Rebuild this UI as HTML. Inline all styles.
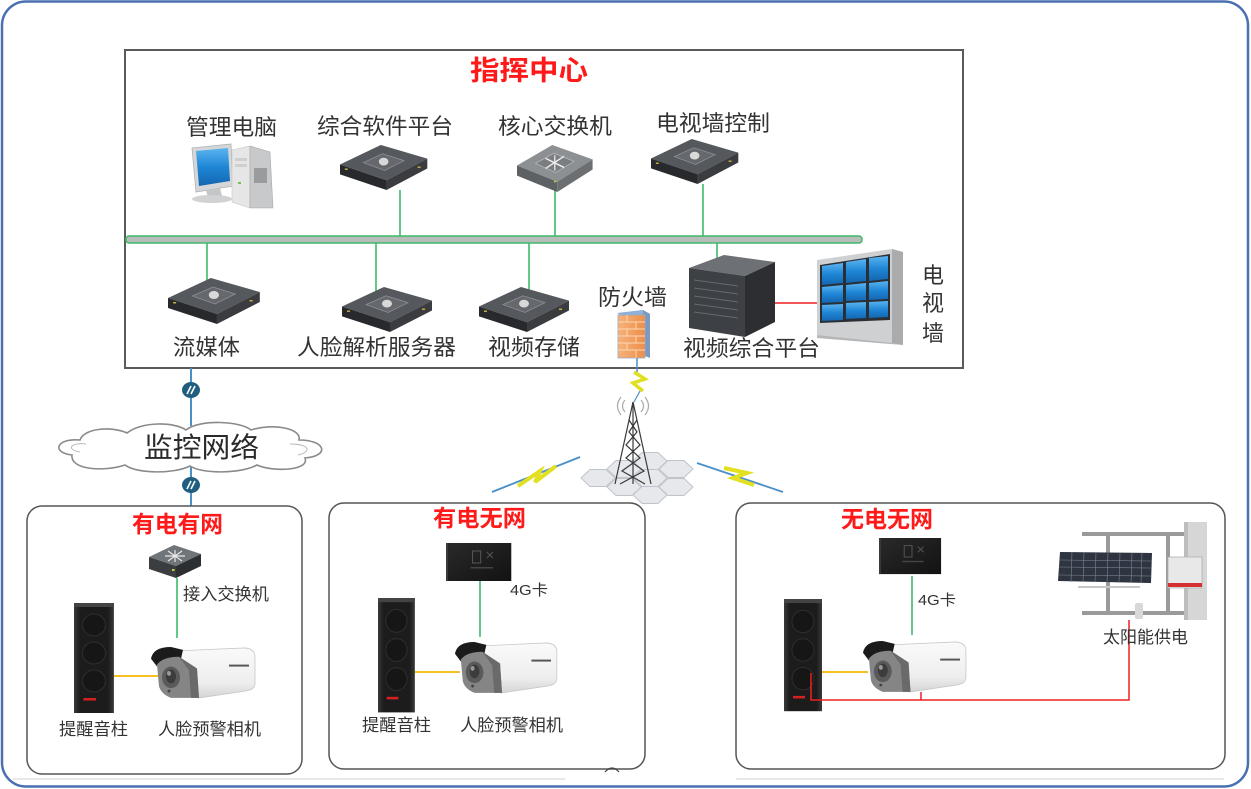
<!DOCTYPE html>
<html><head><meta charset="utf-8"><style>
html,body{margin:0;padding:0;background:#fff;}
svg{display:block;}
.t{font-family:"Liberation Sans","Noto Sans CJK SC",sans-serif;fill:#333;}
.r{font-family:"Liberation Sans","Noto Sans CJK SC",sans-serif;fill:#ff1a1a;font-weight:bold;}
</style></head><body>
<svg width="1251" height="789" viewBox="0 0 1251 789" xmlns="http://www.w3.org/2000/svg">
<defs>
<linearGradient id="spk" x1="0" y1="0" x2="1" y2="0"><stop offset="0" stop-color="#3a3a3a"/><stop offset="0.15" stop-color="#1c1c1c"/><stop offset="0.85" stop-color="#1c1c1c"/><stop offset="1" stop-color="#3a3a3a"/></linearGradient>
<linearGradient id="scr" x1="0" y1="0" x2="0" y2="1"><stop offset="0" stop-color="#5ab4f0"/><stop offset="0.5" stop-color="#1f86d6"/><stop offset="1" stop-color="#1466b0"/></linearGradient>
<linearGradient id="cam" x1="0" y1="0" x2="0" y2="1"><stop offset="0" stop-color="#fafafa"/><stop offset="0.7" stop-color="#eeeeee"/><stop offset="1" stop-color="#d4d4d4"/></linearGradient>
<linearGradient id="g4" x1="0" y1="0" x2="1" y2="1"><stop offset="0" stop-color="#2a2a2a"/><stop offset="1" stop-color="#121212"/></linearGradient>
<linearGradient id="fw" x1="0" y1="0" x2="1" y2="0"><stop offset="0" stop-color="#f6b27a"/><stop offset="1" stop-color="#ee8f4a"/></linearGradient>
<g id="server">
<polygon points="0,22 42,2 90,16 48,38" fill="#55585c"/>
<polygon points="0,22 48,38 48,48 0,32" fill="#28292c"/>
<polygon points="48,38 90,16 90,26 48,48" fill="#3a3c40"/>
<polygon points="24,20 44,11 66,18 46,28" fill="#65686d" stroke="#8e9196" stroke-width="0.8"/>
<ellipse cx="45" cy="19" rx="5" ry="4" fill="#d8d8d8"/>
<rect x="5" y="26" width="3" height="1.5" fill="#c8b040"/>
<rect x="80" y="24" width="3" height="1.5" fill="#c8b040"/>
</g>
<g id="speaker">
<rect x="0" y="0" width="38" height="110" fill="url(#spk)"/>
<rect x="0" y="0" width="38" height="4" fill="#444"/>
<circle cx="19" cy="22" r="11" fill="#161616" stroke="#2e2e2e"/>
<circle cx="19" cy="50" r="11" fill="#161616" stroke="#2e2e2e"/>
<circle cx="19" cy="78" r="11" fill="#161616" stroke="#2e2e2e"/>
<rect x="9" y="95" width="12" height="2.5" fill="#d42020"/>
</g>
<g id="camera">
<path d="M28,6 L96,3 Q106,4 106,12 L106,40 Q105,46 96,47 L50,54 L34,50 Z" fill="url(#cam)" stroke="#c8c8c8" stroke-width="0.8"/>
<path d="M2,14 Q4,2 22,2 L34,5 L32,14 Q14,12 8,22 Z" fill="#1b1b1b"/>
<path d="M8,20 Q14,12 30,12 L48,24 L50,54 L22,54 Q12,50 10,42 Z" fill="#858585"/>
<path d="M30,12 L48,24 L50,54 L42,54 L40,26 Z" fill="#6a6a6a"/>
<ellipse cx="22" cy="33" rx="9" ry="11" fill="#5a5a5a"/>
<ellipse cx="22" cy="32" rx="5" ry="7" fill="#3c3c3c"/>
<ellipse cx="20" cy="29" rx="2" ry="2.5" fill="#999"/>
<circle cx="20" cy="47" r="1.5" fill="#444"/>
<rect x="80" y="20" width="20" height="2" fill="#555"/>
</g>
<g id="g4dev">
<rect x="0" y="0" width="64" height="38" fill="url(#g4)"/>
<rect x="0" y="0" width="2" height="38" fill="#3a3a3a"/>
<rect x="26" y="8" width="8" height="12" fill="none" stroke="#555" stroke-width="1"/>
<path d="M40,9 l6,6 M46,9 l-6,6" stroke="#555" stroke-width="1"/>
<rect x="24" y="24" width="22" height="1.5" fill="#444"/>
</g>
</defs>

<!-- outer frame -->
<rect x="2" y="1.5" width="1246" height="785" rx="24" ry="24" fill="#fff" stroke="#4a70b2" stroke-width="2.5"/>
<line x1="13" y1="779" x2="565" y2="779" stroke="#d0d0d0" stroke-width="1"/>
<line x1="736" y1="779" x2="1224" y2="779" stroke="#d0d0d0" stroke-width="1"/>

<!-- main box -->
<rect x="125" y="50" width="838" height="318" fill="#fff" stroke="#5a5a5a" stroke-width="2"/>
<text class="r" x="470" y="80" font-size="27" textLength="118" lengthAdjust="spacingAndGlyphs">指挥中心</text>

<text class="t" x="186" y="135" font-size="22" textLength="91" lengthAdjust="spacingAndGlyphs">管理电脑</text>
<text class="t" x="317" y="134" font-size="22" textLength="136" lengthAdjust="spacingAndGlyphs">综合软件平台</text>
<text class="t" x="498" y="134" font-size="22" textLength="114" lengthAdjust="spacingAndGlyphs">核心交换机</text>
<text class="t" x="656" y="131" font-size="22" textLength="114" lengthAdjust="spacingAndGlyphs">电视墙控制</text>

<!-- green lines -->
<g stroke="#3dba6a" stroke-width="1.6">
<line x1="400" y1="190" x2="400" y2="237"/>
<line x1="555" y1="190" x2="555" y2="237"/>
<line x1="703" y1="184" x2="703" y2="237"/>
<line x1="207" y1="242" x2="207" y2="292"/>
<line x1="376" y1="242" x2="376" y2="293"/>
<line x1="529" y1="242" x2="529" y2="293"/>
<line x1="717" y1="242" x2="717" y2="272"/>
</g>
<!-- bus -->
<rect x="126" y="236" width="736" height="7" rx="3" fill="#b9bdb9" stroke="#3dba6a" stroke-width="1.5"/>

<!-- PC -->
<g>
<polygon points="192,148 231,144 233,186 196,192" fill="#d4d6d8" stroke="#b0b2b4" stroke-width="0.8"/>
<polygon points="196,151 228,148 230,181 199,186" fill="url(#scr)"/>
<polygon points="206,190 220,188 222,196 208,198" fill="#c4c6c8"/>
<ellipse cx="212" cy="199" rx="20" ry="4" fill="#d0d2d4"/>
<polygon points="232,150 250,146 250,208 232,202" fill="#e6e6e6" stroke="#c4c4c4" stroke-width="0.6"/>
<polygon points="250,146 270,152 273,208 250,208" fill="#c8c9cb" stroke="#a8a8a8" stroke-width="0.6"/>
<rect x="235" y="158" width="12" height="3" fill="#cfcfcf"/>
<rect x="235" y="164" width="12" height="3" fill="#cfcfcf"/>
<rect x="254" y="168" width="13" height="15" fill="#9a9b9d"/>
<rect x="238" y="182" width="3" height="2" fill="#7ac050"/>
</g>

<!-- servers -->
<use href="#server" transform="translate(340,143) scale(0.97,0.98)"/>
<use href="#server" transform="translate(651,137) scale(0.97,0.98)"/>
<use href="#server" transform="translate(168,276) scale(1.02,1.0)"/>
<use href="#server" transform="translate(342,285) scale(1.0,0.98)"/>
<use href="#server" transform="translate(479,285) scale(1.0,0.98)"/>
<text x="690" y="159" font-family="Liberation Sans,sans-serif" font-size="6" fill="#ddd">TV</text>

<!-- core switch -->
<g transform="translate(517,143) scale(0.84,1.02)">
<polygon points="0,22 42,2 90,16 48,38" fill="#8d9093"/>
<polygon points="0,22 48,38 48,48 0,32" fill="#5e6164"/>
<polygon points="48,38 90,16 90,26 48,48" fill="#6c6f72"/>
<polygon points="22,20 44,10 68,18 46,29" fill="#7b7e81" stroke="#b6b8ba" stroke-width="0.8"/>
<path d="M34,15 L56,24 M56,13 L34,25 M45,12 L45,27" stroke="#eee" stroke-width="1.5"/>
<rect x="44" y="37" width="3" height="1.5" fill="#b8d040"/>
</g>

<!-- bottom row labels -->
<text class="t" x="173" y="355" font-size="22" textLength="67" lengthAdjust="spacingAndGlyphs">流媒体</text>
<text class="t" x="297" y="355" font-size="22" textLength="159" lengthAdjust="spacingAndGlyphs">人脸解析服务器</text>
<text class="t" x="488" y="355" font-size="22" textLength="92" lengthAdjust="spacingAndGlyphs">视频存储</text>
<text class="t" x="598" y="305" font-size="22" textLength="69" lengthAdjust="spacingAndGlyphs">防火墙</text>
<text class="t" x="683" y="356" font-size="22" textLength="137" lengthAdjust="spacingAndGlyphs">视频综合平台</text>
<text class="t" x="922" y="283" font-size="22">电</text>
<text class="t" x="922" y="311" font-size="22">视</text>
<text class="t" x="922" y="341" font-size="22">墙</text>

<!-- firewall -->
<g>
<polygon points="617,313 643,310 650,314 624,317" fill="#8fb0d8"/>
<polygon points="643,310 650,314 650,358 645,356" fill="#7d99c0"/>
<rect x="618" y="315" width="27" height="43" fill="url(#fw)" stroke="#9ab" stroke-width="0.8"/>
<g stroke="#fbd7b5" stroke-width="1">
<line x1="618" y1="322" x2="645" y2="322"/><line x1="618" y1="329" x2="645" y2="329"/>
<line x1="618" y1="336" x2="645" y2="336"/><line x1="618" y1="343" x2="645" y2="343"/>
<line x1="618" y1="350" x2="645" y2="350"/>
<line x1="627" y1="315" x2="627" y2="322"/><line x1="636" y1="322" x2="636" y2="329"/>
<line x1="627" y1="329" x2="627" y2="336"/><line x1="636" y1="336" x2="636" y2="343"/>
<line x1="627" y1="343" x2="627" y2="350"/><line x1="636" y1="350" x2="636" y2="358"/>
</g>
</g>

<!-- video platform cabinet -->
<g>
<polygon points="689,268 724,255 775,262 745,276" fill="#6d7074"/>
<polygon points="689,268 745,276 745,337 689,328" fill="#3d4044"/>
<polygon points="745,276 775,262 775,322 745,337" fill="#2c2e31"/>
<g stroke="#666a6e" stroke-width="1">
<line x1="694" y1="280" x2="738" y2="286"/><line x1="694" y1="288" x2="738" y2="294"/>
<line x1="694" y1="296" x2="738" y2="302"/><line x1="694" y1="304" x2="738" y2="310"/>
<line x1="694" y1="312" x2="738" y2="318"/>
</g>
</g>
<line x1="775" y1="303" x2="818" y2="303" stroke="#ee2020" stroke-width="1.5"/>

<!-- TV wall -->
<g>
<polygon points="817,260 892,249 903,252 903,345 817,335" fill="#cfd0d2"/>
<polygon points="892,249 903,252 903,345 892,343" fill="#a9abad"/>
<polygon points="817,335 892,343 903,345 817,338" fill="#b5b6b8"/>
<polygon points="820,265 890,254 890,320 820,323" fill="#2a2e35"/>
<g fill="url(#scr)">
<polygon points="822,266 843,263 843,283 822,285"/>
<polygon points="846,262 866,259 866,281 846,283"/>
<polygon points="869,258 888,256 888,279 869,281"/>
<polygon points="822,287 843,285 843,302 822,303"/>
<polygon points="846,285 866,283 866,300 846,301"/>
<polygon points="869,283 888,281 888,299 869,300"/>
<polygon points="822,305 843,304 843,320 822,321"/>
<polygon points="846,303 866,302 866,318 846,319"/>
<polygon points="869,302 888,301 888,317 869,318"/>
</g>
</g>

<!-- links to cloud -->
<g stroke="#4a90c8" stroke-width="2">
<line x1="191" y1="368" x2="191" y2="426"/>
<line x1="191" y1="466" x2="191" y2="506"/>
</g>
<g>
<ellipse cx="191" cy="390" rx="9" ry="8" fill="#1f5e7e"/>
<path d="M187,394 L191,386 M191,394 L195,386" stroke="#fff" stroke-width="1.6"/>
<ellipse cx="191" cy="485" rx="9" ry="8" fill="#1f5e7e"/>
<path d="M187,489 L191,481 M191,489 L195,481" stroke="#fff" stroke-width="1.6"/>
</g>

<!-- cloud -->
<path d="M72,455 C52,453 55,438 80,440 C84,428 112,426 127,433 C142,421 175,422 186,430 C200,419 240,421 251,430 C272,423 302,428 299,440 C326,440 330,456 305,458 C310,471 272,472 257,465 C241,474 202,474 190,466 C174,474 137,474 125,465 C104,472 70,470 72,455 Z" fill="#fff" stroke="#8a8a8a" stroke-width="1.6"/>
<path d="M80,452 C66,450 70,442 86,444 M290,444 C310,444 312,452 298,455" fill="none" stroke="#bbb" stroke-width="1"/>
<text class="t" x="144" y="457" font-size="28" textLength="115" lengthAdjust="spacingAndGlyphs" style="fill:#2a2a2a">监控网络</text>

<!-- firewall to tower link -->
<line x1="637" y1="358" x2="637" y2="373" stroke="#4a90c8" stroke-width="1.5"/>
<polyline points="634,372 645,379 633,383 643,391" fill="none" stroke="#e0e020" stroke-width="3.5"/>
<line x1="640" y1="391" x2="634" y2="402" stroke="#4a90c8" stroke-width="1.2"/>

<!-- hexagons -->
<g fill="#e6e8ec" stroke="#bfc4cc" stroke-width="1">
<polygon points="581,478 590,469.5 606,469.5 615,478 606,486.5 590,486.5"/>
<polygon points="607,469 616,460.5 632,460.5 641,469 632,477.5 616,477.5"/>
<polygon points="607,487 616,478.5 632,478.5 641,487 632,495.5 616,495.5"/>
<polygon points="633,478 642,469.5 658,469.5 667,478 658,486.5 642,486.5"/>
<polygon points="633,495 642,486.5 658,486.5 667,495 658,503.5 642,503.5"/>
<polygon points="633,461 642,452.5 658,452.5 667,461 658,469.5 642,469.5"/>
<polygon points="659,469 668,460.5 684,460.5 693,469 684,477.5 668,477.5"/>
<polygon points="659,487 668,478.5 684,478.5 693,487 684,495.5 668,495.5"/>
</g>
<!-- tower -->
<g stroke="#3a3a3a" stroke-width="1.2" fill="none">
<line x1="633" y1="402" x2="615" y2="484"/>
<line x1="633" y1="402" x2="651" y2="484"/>
<line x1="633" y1="402" x2="633" y2="484"/>
<polyline points="629,420 637,432 626,445 640,458 622,471 645,484"/>
<polyline points="637,420 629,432 640,445 626,458 644,471 620,484"/>
</g>
<g stroke="#aaa" stroke-width="1.2" fill="none">
<path d="M625,400 Q620,406 625,412"/><path d="M621,397 Q614,406 621,415"/>
<path d="M641,400 Q646,406 641,412"/><path d="M645,397 Q652,406 645,415"/>
</g>
<!-- lightning bolts -->
<line x1="492" y1="492" x2="580" y2="457" stroke="#4a90c8" stroke-width="1.8"/>
<polyline points="518,486 540,471 535,482 556,466" fill="none" stroke="#e2e020" stroke-width="4"/>
<line x1="697" y1="463" x2="783" y2="492" stroke="#4a90c8" stroke-width="1.8"/>
<polyline points="724,468 747,473 733,478 754,485" fill="none" stroke="#e2e020" stroke-width="4"/>

<!-- box 1 -->
<rect x="27" y="506" width="275" height="268" rx="15" fill="#fff" stroke="#555" stroke-width="1.5"/>
<text class="r" x="132" y="532" font-size="23" textLength="91" lengthAdjust="spacingAndGlyphs">有电有网</text>
<line x1="177" y1="578" x2="177" y2="638" stroke="#3dba6a" stroke-width="1.6"/>
<g>
<polygon points="149,557 174,545 201,554 176,566" fill="#70757a"/>
<polygon points="149,557 176,566 176,578 149,569" fill="#3b3e41"/>
<polygon points="176,566 201,554 201,566 176,578" fill="#2c2f32"/>
<path d="M165,556 L185,556 M175,550 L175,562 M168,551 L182,561 M182,551 L168,561" stroke="#e8e8e8" stroke-width="1.2"/>
<rect x="172" y="569" width="2.5" height="2" fill="#b8d040"/>
</g>
<text class="t" x="183" y="600" font-size="17" textLength="86" lengthAdjust="spacingAndGlyphs">接入交换机</text>
<line x1="114" y1="676" x2="160" y2="676" stroke="#f5c020" stroke-width="2"/>
<use href="#speaker" transform="translate(74,603) scale(1.05,1.0)"/>
<use href="#camera" transform="translate(149,645) scale(1.0,0.98)"/>
<text class="t" x="59" y="735" font-size="17" textLength="69" lengthAdjust="spacingAndGlyphs">提醒音柱</text>
<text class="t" x="158" y="735" font-size="17" textLength="103" lengthAdjust="spacingAndGlyphs">人脸预警相机</text>

<!-- box 2 -->
<rect x="329" y="503" width="316" height="266" rx="15" fill="#fff" stroke="#555" stroke-width="1.5"/>
<text class="r" x="433" y="526" font-size="23" textLength="93" lengthAdjust="spacingAndGlyphs">有电无网</text>
<use href="#g4dev" transform="translate(446,543) scale(1.02,1.0)"/>
<line x1="480" y1="581" x2="480" y2="637" stroke="#3dba6a" stroke-width="1.6"/>
<text class="t" x="510" y="595" font-size="15" textLength="38" lengthAdjust="spacingAndGlyphs">4G卡</text>
<line x1="415" y1="672" x2="460" y2="672" stroke="#f5c020" stroke-width="2"/>
<use href="#speaker" transform="translate(378,598) scale(0.97,1.04)"/>
<use href="#camera" transform="translate(453,640) scale(0.98,0.98)"/>
<text class="t" x="362" y="731" font-size="17" textLength="69" lengthAdjust="spacingAndGlyphs">提醒音柱</text>
<text class="t" x="460" y="731" font-size="17" textLength="103" lengthAdjust="spacingAndGlyphs">人脸预警相机</text>
<path d="M605,772 Q612,764 619,772" fill="none" stroke="#444" stroke-width="1.2"/>

<!-- box 3 -->
<rect x="736" y="503" width="489" height="266" rx="15" fill="#fff" stroke="#555" stroke-width="1.5"/>
<text class="r" x="841" y="527" font-size="23" textLength="92" lengthAdjust="spacingAndGlyphs">无电无网</text>
<use href="#g4dev" transform="translate(879,538) scale(0.97,0.95)"/>
<line x1="912" y1="576" x2="912" y2="635" stroke="#3dba6a" stroke-width="1.6"/>
<text class="t" x="918" y="605" font-size="15" textLength="38" lengthAdjust="spacingAndGlyphs">4G卡</text>
<line x1="822" y1="672" x2="868" y2="672" stroke="#f5c020" stroke-width="2"/>
<use href="#speaker" transform="translate(784,599) scale(1.0,1.02)"/>
<use href="#camera" transform="translate(861,639) scale(0.99,0.98)"/>
<polyline points="811,673 811,700 1129,700 1129,620" fill="none" stroke="#ee2020" stroke-width="1.5"/>
<line x1="921" y1="692" x2="921" y2="700" stroke="#ee2020" stroke-width="1.5"/>
<!-- solar -->
<g>
<rect x="1082" y="532" width="125" height="4" fill="#9a9a9a"/>
<rect x="1082" y="611" width="125" height="4" fill="#9a9a9a"/>
<rect x="1106" y="534" width="4" height="80" fill="#9a9a9a"/>
<rect x="1166" y="534" width="4" height="80" fill="#9a9a9a"/>
<rect x="1184" y="522" width="23" height="98" fill="#d6d6d6"/>
<rect x="1184" y="522" width="4" height="98" fill="#bdbdbd"/>
<rect x="1168" y="557" width="34" height="31" fill="#e8e8e8" stroke="#b0b0b0" stroke-width="0.8"/>
<rect x="1168" y="583" width="34" height="4" fill="#d43030"/>
<polygon points="1060,552 1152,553 1151,583 1058,581" fill="#2e3440"/>
<g stroke="#7d8593" stroke-width="0.6">
<line x1="1060" y1="560" x2="1152" y2="561"/><line x1="1059" y1="567" x2="1152" y2="568"/><line x1="1059" y1="575" x2="1151" y2="576"/>
<line x1="1072" y1="552" x2="1071" y2="582"/><line x1="1084" y1="552" x2="1083" y2="582"/><line x1="1096" y1="552" x2="1095" y2="582"/>
<line x1="1108" y1="552" x2="1107" y2="582"/><line x1="1120" y1="553" x2="1119" y2="583"/><line x1="1132" y1="553" x2="1131" y2="583"/><line x1="1142" y1="553" x2="1141" y2="583"/>
</g>
<line x1="1078" y1="587" x2="1140" y2="587" stroke="#c8c8c8" stroke-width="2"/>
<rect x="1135" y="603" width="8" height="16" rx="2" fill="#d8d8d8"/>
</g>
<text class="t" x="1103" y="643" font-size="17" textLength="85" lengthAdjust="spacingAndGlyphs">太阳能供电</text>
</svg>
</body></html>
